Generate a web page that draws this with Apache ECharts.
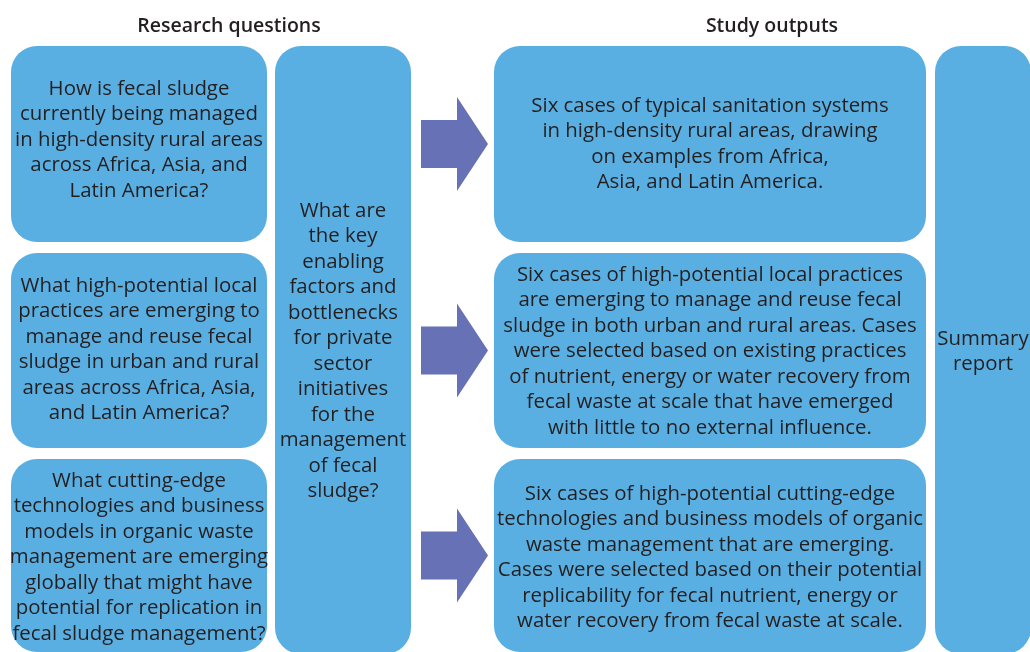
<!DOCTYPE html>
<html>
<head>
<meta charset="utf-8">
<script src="https://cdn.jsdelivr.net/npm/echarts@6/dist/echarts.min.js"></script>
<style>
  html, body { margin: 0; padding: 0; background: #fff; }
  #chart { width: 1030px; height: 652px; }
</style>
</head>
<body>
<div id="chart"></div>
<script>
// column headers
const headers = ["Research questions", "Study outputs"];

// left column: research questions (one per row)
const questions = [
  "How is fecal sludge\ncurrently being managed\nin high-density rural areas\nacross Africa, Asia, and\nLatin America?",
  "What high-potential local\npractices are emerging to\nmanage and reuse fecal\nsludge in urban and rural\nareas across Africa, Asia,\nand Latin America?",
  "What cutting-edge\ntechnologies and business\nmodels in organic waste\nmanagement are emerging\nglobally that might have\npotential for replication in\nfecal sludge management?"
];

// tall box spanning all rows
const crossQuestion = "What are\nthe key\nenabling\nfactors and\nbottlenecks\nfor private\nsector\ninitiatives\nfor the\nmanagement\nof fecal\nsludge?";

// right column: study outputs (one per row)
const outputs = [
  "Six cases of typical sanitation systems\nin high-density rural areas, drawing\non examples from Africa,\nAsia, and Latin America.",
  "Six cases of high-potential local practices\nare emerging to manage and reuse fecal\nsludge in both urban and rural areas. Cases\nwere selected based on existing practices\nof nutrient, energy or water recovery from\nfecal waste at scale that have emerged\nwith little to no external influence.",
  "Six cases of high-potential cutting-edge\ntechnologies and business models of organic\nwaste management that are emerging.\nCases were selected based on their potential\nreplicability for fecal nutrient, energy or\nwater recovery from fecal waste at scale."
];

const summary = "Summary\nreport";

// ---- layout (diagram units == pixels on hidden axes) ----
const cols = {
  q: [11, 267],
  mid: [275, 411],
  arrow: [421, 488],
  out: [494, 926],
  sum: [935, 1031]
};
const rows = [[46, 242], [253, 448], [459, 652]];
const headerX = [229, 772];
// small vertical text nudges so lines sit where the original has them
const qOffset = [-4, -1, 2];
const outOffset = [0, 1, 2];

const BOX = "#5aafe2";
const ARROW = "#6771b5";
const INK = "#231f20";
const FONT = "'Open Sans', 'Noto Sans', sans-serif";

const boxData = [];
questions.forEach((t, i) => boxData.push([cols.q[0], rows[i][0], cols.q[1], rows[i][1], t, qOffset[i]]));
boxData.push([cols.mid[0], rows[0][0], cols.mid[1], rows[2][1] + 2, crossQuestion, 1]);
outputs.forEach((t, i) => boxData.push([cols.out[0], rows[i][0], cols.out[1], rows[i][1], t, outOffset[i]]));
boxData.push([cols.sum[0], rows[0][0], cols.sum[1], rows[2][1] + 2, summary, 1.5]);

const arrowData = rows.map(r => [cols.arrow[0], cols.arrow[1], (r[0] + r[1]) / 2]);

const chart = echarts.init(document.getElementById("chart"));
chart.setOption({
  animation: false,
  grid: { left: 0, right: 0, top: 0, bottom: 0 },
  xAxis: { type: "value", min: 0, max: 1030, show: false },
  yAxis: { type: "value", min: 0, max: 652, inverse: true, show: false },
  graphic: headers.map((h, i) => ({
    type: "text",
    x: headerX[i],
    y: 26,
    style: { text: h, align: "center", verticalAlign: "middle", font: "600 19.5px " + FONT, fill: INK }
  })),
  series: [
    {
      type: "custom",
      data: boxData,
      renderItem: (params, api) => {
        const d = boxData[params.dataIndex];
        const p0 = api.coord([d[0], d[1]]);
        const p1 = api.coord([d[2], d[3]]);
        return {
          type: "group",
          children: [
            {
              type: "rect",
              shape: { x: p0[0], y: p0[1], width: p1[0] - p0[0], height: p1[1] - p0[1], r: 26 },
              style: { fill: BOX }
            },
            {
              type: "text",
              x: (p0[0] + p1[0]) / 2,
              y: (p0[1] + p1[1]) / 2 + d[5],
              style: {
                text: d[4],
                align: "center",
                verticalAlign: "middle",
                font: "20.4px " + FONT,
                lineHeight: 25.5,
                fill: INK
              }
            }
          ]
        };
      }
    },
    {
      type: "custom",
      data: arrowData,
      renderItem: (params, api) => {
        const [x0, x1, cy] = arrowData[params.dataIndex];
        const neck = x0 + 36;
        const pts = [
          [x0, cy - 24], [neck, cy - 24], [neck, cy - 47], [x1, cy],
          [neck, cy + 47], [neck, cy + 24], [x0, cy + 24]
        ].map(p => api.coord(p));
        return { type: "polygon", shape: { points: pts }, style: { fill: ARROW } };
      }
    }
  ]
});
</script>
</body>
</html>
